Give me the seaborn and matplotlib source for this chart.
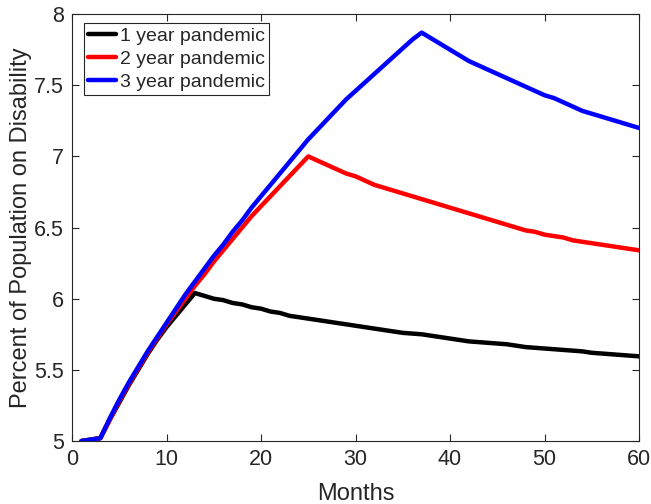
import numpy as np
import pandas as pd
import matplotlib
matplotlib.use("Agg")
import matplotlib.pyplot as plt
import seaborn as sns

months = list(range(1, 61))
series_names = ["1 year pandemic", "2 year pandemic", "3 year pandemic"]
colors = ["#000000", "#ff0000", "#0000ff"]

one_year = [5.00, 5.01, 5.02, 5.15, 5.27, 5.39, 5.50, 5.61, 5.71, 5.80, 5.88, 5.96, 6.04,
            6.02, 6.00, 5.99, 5.97, 5.96, 5.94, 5.93, 5.91, 5.90, 5.88, 5.87, 5.86,
            5.85, 5.84, 5.83, 5.82, 5.81, 5.80, 5.79, 5.78, 5.77, 5.76, 5.755, 5.75,
            5.74, 5.73, 5.72, 5.71, 5.70, 5.695, 5.69, 5.685, 5.68, 5.67, 5.66, 5.655, 5.65,
            5.645, 5.64, 5.635, 5.63, 5.62, 5.615, 5.61, 5.605, 5.60, 5.595]
two_year = [5.00, 5.01, 5.02, 5.15, 5.28, 5.40, 5.51, 5.62, 5.72, 5.82, 5.91, 6.00, 6.09,
            6.17, 6.26, 6.34, 6.42, 6.50, 6.58, 6.65, 6.72, 6.79, 6.86, 6.93, 7.00,
            6.97, 6.94, 6.91, 6.88, 6.86, 6.83, 6.80, 6.78, 6.76, 6.74, 6.72, 6.70,
            6.68, 6.66, 6.64, 6.62, 6.60, 6.58, 6.56, 6.54, 6.52, 6.50, 6.48, 6.47, 6.45,
            6.44, 6.43, 6.41, 6.40, 6.39, 6.38, 6.37, 6.36, 6.35, 6.34]
three_year = [5.00, 5.01, 5.02, 5.16, 5.29, 5.41, 5.52, 5.63, 5.73, 5.83, 5.93, 6.03, 6.12,
              6.21, 6.30, 6.38, 6.47, 6.55, 6.64, 6.72, 6.80, 6.88, 6.96, 7.04, 7.12,
              7.19, 7.26, 7.33, 7.40, 7.46, 7.52, 7.58, 7.64, 7.70, 7.76, 7.82, 7.87,
              7.83, 7.79, 7.75, 7.71, 7.67, 7.64, 7.61, 7.58, 7.55, 7.52, 7.49, 7.46, 7.43,
              7.41, 7.38, 7.35, 7.32, 7.30, 7.28, 7.26, 7.24, 7.22, 7.20]

x_ticks = [0, 10, 20, 30, 40, 50, 60]
y_ticks = [5, 5.5, 6, 6.5, 7, 7.5, 8]
y_tick_labels = ["5", "5.5", "6", "6.5", "7", "7.5", "8"]

df = pd.DataFrame({
    "Months": months * 3,
    "value": one_year + two_year + three_year,
    "series": [series_names[0]] * 60 + [series_names[1]] * 60 + [series_names[2]] * 60,
})

sns.set_theme(style="white")
plt.rcParams["font.family"] = ["Liberation Sans", "DejaVu Sans"]

fig = plt.figure(figsize=(6.51, 5.04), dpi=100)
ax = fig.add_axes([0.1106, 0.125, 0.8710, 0.847])

sns.lineplot(data=df, x="Months", y="value", hue="series", hue_order=series_names,
             palette=colors, linewidth=3.2, ax=ax, legend=True)

ax.set_xlim(0, 60)
ax.set_ylim(5, 8)
ax.set_xticks(x_ticks)
ax.set_xticklabels([str(t) for t in x_ticks])
ax.set_yticks(y_ticks)
ax.set_yticklabels(y_tick_labels)
ax.tick_params(direction="in", length=5, width=0.8, colors="#262626",
               labelsize=15.5, top=True, right=True, bottom=True, left=True,
               labelcolor="#262626", pad=6)
for s in ax.spines.values():
    s.set_color("#262626")
    s.set_linewidth(0.8)
ax.set_xlabel("Months", fontsize=17, color="#262626", labelpad=9)
ax.set_ylabel("Percent of Population on Disability", fontsize=17, color="#262626", labelpad=1)

leg = ax.legend(loc="upper left", bbox_to_anchor=(0.021, 0.979), fontsize=14,
                frameon=True, fancybox=False, edgecolor="#262626", framealpha=1,
                handlelength=1.45, borderpad=0.2, labelspacing=0.28, handletextpad=0.2,
                borderaxespad=0.0)
leg.get_frame().set_linewidth(0.8)
for line in leg.get_lines():
    line.set_linewidth(3.2)

fig.savefig("out.png", dpi=100)
